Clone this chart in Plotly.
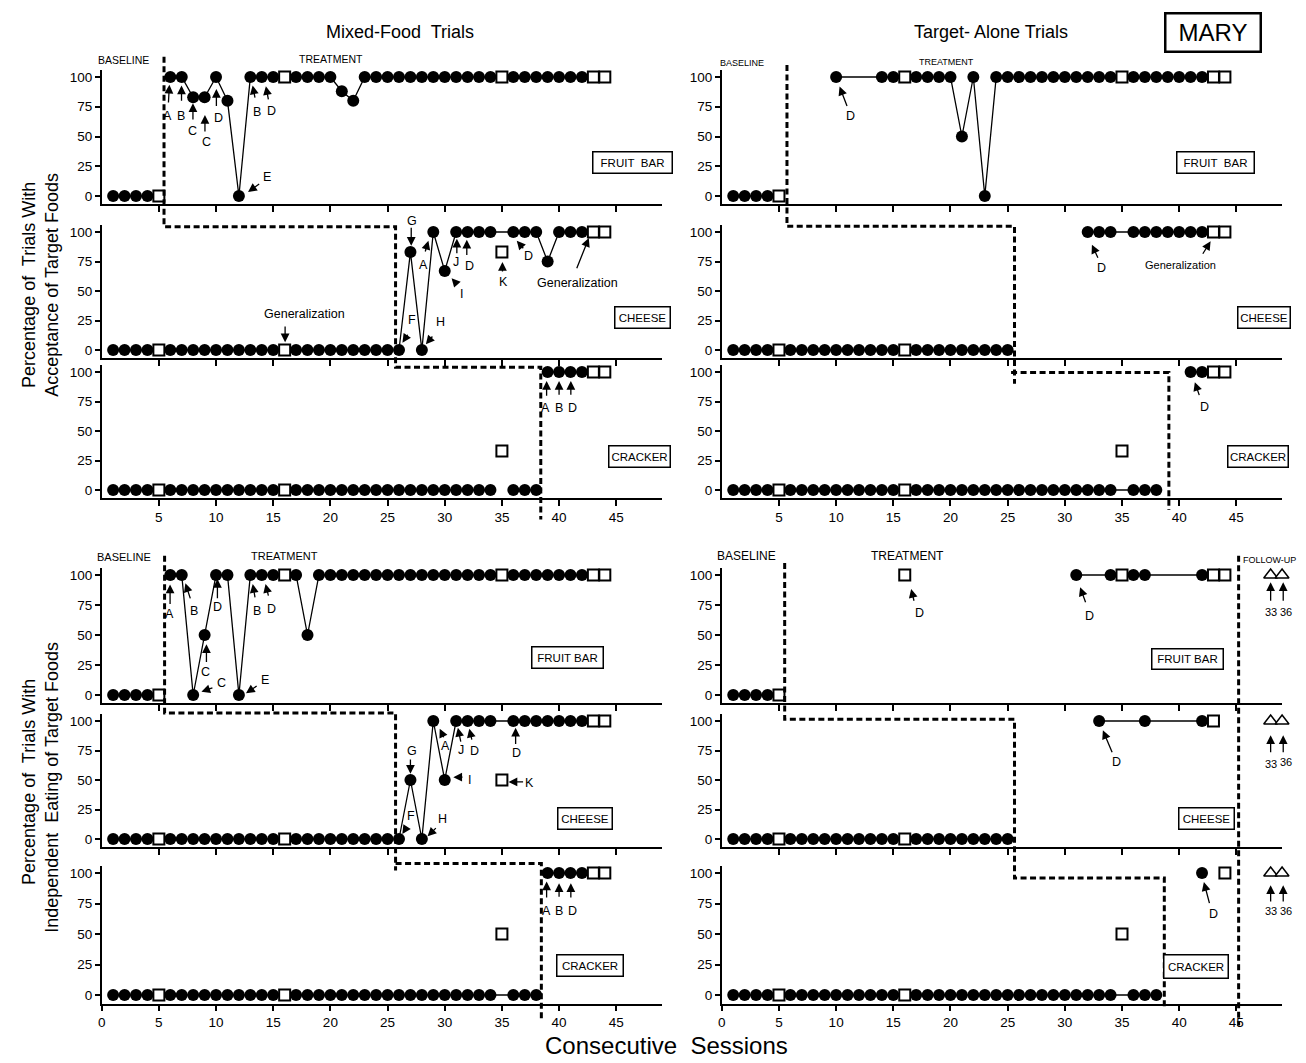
import plotly.graph_objects as go

W, H = 1306, 1063
FONT = "Liberation Sans, Arial, Helvetica, sans-serif"
XR = [0, 49]
YR = [-7, 106]
X_TICKS = [0, 5, 10, 15, 20, 25, 30, 35, 40, 45]
Y_TICKS = [0, 25, 50, 75, 100]

# ================= DATA =================
# --- Acceptance, Mixed-Food trials (top left) ---
ACC_MF_FRUIT_X = [1,2,3,4,None,6,7,8,9,10,11,12,13,14,15,
                  17,18,19,20,21,22,23,24,25,26,27,28,29,30,31,32,33,34,
                  36,37,38,39,40,41,42]
ACC_MF_FRUIT_Y = [0,0,0,0,None,100,100,83,83,100,80,0,100,100,100,
                  100,100,100,100,88,80,100,100,100,100,100,100,100,100,100,100,100,100,
                  100,100,100,100,100,100,100]
ACC_MF_FRUIT_SQ_X = [5,16,35,43,44]
ACC_MF_FRUIT_SQ_Y = [0,100,100,100,100]

ACC_MF_CHEESE_X = [1,2,3,4,6,7,8,9,10,11,12,13,14,15,17,18,19,20,21,22,23,24,25,None,
                   26,27,28,29,30,31,32,33,34,36,37,38,39,40,41,42]
ACC_MF_CHEESE_Y = [0,0,0,0,0,0,0,0,0,0, 0,0,0,0,0,0,0,0,0,0, 0,0,0,None,
                   0,83,0,100,67,100,100,100,100,100,100,100,75,100,100,100]
ACC_MF_CHEESE_SQ_X = [5,16,35,43,44]
ACC_MF_CHEESE_SQ_Y = [0,0,83,100,100]

ACC_MF_CRACKER_X = [1,2,3,4,6,7,8,9,10,11,12,13,14,15,17,18,19,20,21,22,23,24,25,26,27,28,29,30,31,32,33,34,
                    None,36,37,38,None,39,40,41,42]
ACC_MF_CRACKER_Y = [0,0,0,0,0,0,0,0,0,0, 0,0,0,0,0,0,0,0,0,0, 0,0,0,0,0,0,0,0,0,0, 0,0,
                    None,0,0,0,None,100,100,100,100]
ACC_MF_CRACKER_SQ_X = [5,16,35,43,44]
ACC_MF_CRACKER_SQ_Y = [0,0,33,100,100]

# --- Acceptance, Target-Alone trials (top right) ---
ACC_TA_FRUIT_X = [1,2,3,4,None,10,14,15,
                  17,18,19,20,21,22,23,24,25,26,27,28,29,30,31,32,33,34,
                  36,37,38,39,40,41,42]
ACC_TA_FRUIT_Y = [0,0,0,0,None,100,100,100,
                  100,100,100,100,50,100,0,100,100,100,100,100,100,100,100,100,100,100,
                  100,100,100,100,100,100,100]
ACC_TA_FRUIT_SQ_X = [5,16,35,43,44]
ACC_TA_FRUIT_SQ_Y = [0,100,100,100,100]

ACC_TA_CHEESE_X = [1,2,3,4,6,7,8,9,10,11,12,13,14,15,17,18,19,20,21,22,23,24,25,None,
                   32,33,34,36,37,38,39,40,41,42]
ACC_TA_CHEESE_Y = [0,0,0,0,0,0,0,0,0,0, 0,0,0,0,0,0,0,0,0,0, 0,0,0,None,
                   100,100,100,100,100,100,100,100,100,100]
ACC_TA_CHEESE_SQ_X = [5,16,43,44]
ACC_TA_CHEESE_SQ_Y = [0,0,100,100]

ACC_TA_CRACKER_X = [1,2,3,4,6,7,8,9,10,11,12,13,14,15,17,18,19,20,21,22,23,24,25,26,27,28,29,30,31,32,33,34,
                    36,37,38,None,41,42]
ACC_TA_CRACKER_Y = [0,0,0,0,0,0,0,0,0,0, 0,0,0,0,0,0,0,0,0,0, 0,0,0,0,0,0,0,0,0,0, 0,0,
                    0,0,0,None,100,100]
ACC_TA_CRACKER_SQ_X = [5,16,35,43,44]
ACC_TA_CRACKER_SQ_Y = [0,0,33,100,100]

# --- Independent eating, Mixed-Food trials (bottom left) ---
EAT_MF_FRUIT_X = [1,2,3,4,None,6,7,8,9,10,11,12,13,14,15,
                  17,18,19,20,21,22,23,24,25,26,27,28,29,30,31,32,33,34,
                  36,37,38,39,40,41,42]
EAT_MF_FRUIT_Y = [0,0,0,0,None,100,100,0,50,100,100,0,100,100,100,
                  100,50,100,100,100,100,100,100,100,100,100,100,100,100,100,100,100,100,
                  100,100,100,100,100,100,100]
EAT_MF_FRUIT_SQ_X = [5,16,35,43,44]
EAT_MF_FRUIT_SQ_Y = [0,100,100,100,100]

EAT_MF_CHEESE_X = [1,2,3,4,6,7,8,9,10,11,12,13,14,15,17,18,19,20,21,22,23,24,25,None,
                   26,27,28,29,30,31,32,33,34,36,37,38,39,40,41,42]
EAT_MF_CHEESE_Y = [0,0,0,0,0,0,0,0,0,0, 0,0,0,0,0,0,0,0,0,0, 0,0,0,None,
                   0,50,0,100,50,100,100,100,100,100,100,100,100,100,100,100]
EAT_MF_CHEESE_SQ_X = [5,16,35,43,44]
EAT_MF_CHEESE_SQ_Y = [0,0,50,100,100]

EAT_MF_CRACKER_X = [1,2,3,4,6,7,8,9,10,11,12,13,14,15,17,18,19,20,21,22,23,24,25,26,27,28,29,30,31,32,33,34,
                    36,37,38,None,39,40,41,42]
EAT_MF_CRACKER_Y = [0,0,0,0,0,0,0,0,0,0, 0,0,0,0,0,0,0,0,0,0, 0,0,0,0,0,0,0,0,0,0, 0,0,
                    0,0,0,None,100,100,100,100]
EAT_MF_CRACKER_SQ_X = [5,16,35,43,44]
EAT_MF_CRACKER_SQ_Y = [0,0,50,100,100]

# --- Independent eating, Target-Alone trials (bottom right) ---
EAT_TA_FRUIT_X = [1,2,3,4,None,31,34,36,37,42]
EAT_TA_FRUIT_Y = [0,0,0,0,None,100,100,100,100,100]
EAT_TA_FRUIT_SQ_X = [5,16,35,43,44]
EAT_TA_FRUIT_SQ_Y = [0,100,100,100,100]

EAT_TA_CHEESE_X = [1,2,3,4,6,7,8,9,10,11,12,13,14,15,17,18,19,20,21,22,23,24,25,None,33,37,42]
EAT_TA_CHEESE_Y = [0,0,0,0,0,0,0,0,0,0, 0,0,0,0,0,0,0,0,0,0, 0,0,0,None,100,100,100]
EAT_TA_CHEESE_SQ_X = [5,16,43]
EAT_TA_CHEESE_SQ_Y = [0,0,100]

EAT_TA_CRACKER_X = [1,2,3,4,6,7,8,9,10,11,12,13,14,15,17,18,19,20,21,22,23,24,25,26,27,28,29,30,31,32,33,34,
                    36,37,38,None,42]
EAT_TA_CRACKER_Y = [0,0,0,0,0,0,0,0,0,0, 0,0,0,0,0,0,0,0,0,0, 0,0,0,0,0,0,0,0,0,0, 0,0,
                    0,0,0,None,100]
EAT_TA_CRACKER_SQ_X = [5,16,35,44]
EAT_TA_CRACKER_SQ_Y = [0,0,50,100]

FOLLOW_UP_X = [48, 49]
FOLLOW_UP_Y = [100, 100]

# --- arrows (tail x, tail y, tip x, tip y) and notes (text, x, y[, size]) ---
ACC_MF_FRUIT_ARROWS = [(5.83,77.3,5.92,93.5),(6.98,78.7,6.98,92.9),(7.98,63,7.98,78),(9.03,53,9.03,68),
                       (10.03,74.4,10.03,90),(13.43,81.5,13.2,92.9),(14.6,80,14.36,92.3),(13.9,11,12.8,3.4)]
ACC_MF_FRUIT_NOTES = [("A",5.76,67.3),("B",6.92,67.3),("C",7.98,54.5),("C",9.19,45.2),("D",10.19,65.3),
                      ("B",13.55,70.7),("D",14.86,71.6),("E",14.5,16.2)]
ACC_MF_CHEESE_ARROWS = [(16.04,21.2,16.04,6.5),(27.07,104.8,27.07,88.4),(26.85,14.2,26.3,6.2),(29.03,12.7,28.35,4.8),
                        (28.26,82.2,28.57,92.6),(31.12,55.2,30.6,60.9),(31.06,80.7,31.06,94.3),(31.93,79.3,31.93,93.5),
                        (35.05,65.2,35.05,74.5),(36.98,85,36.3,92.6),(41.5,68,42.6,94.9)]
ACC_MF_CHEESE_NOTES = [("Generalization",17.7,30.3),("G",27.1,109.6),("F",27.17,25.5),("H",29.6,23.5),("A",28.1,72.2),
                       ("I",31.43,47.3),("J",30.97,74.2),("D",32.15,70.8),("K",35.1,57.5),("D",37.29,79.3),
                       ("Generalization",41.65,57.2)]
ACC_MF_CRACKER_ARROWS = [(38.91,78.7,38.91,92.3),(40.0,79.5,40.0,92.3),(41.03,79.5,41.03,92.3)]
ACC_MF_CRACKER_NOTES = [("A",38.85,69.6),("B",40.0,69.6),("D",41.18,69.6)]

ACC_TA_FRUIT_ARROWS = [(11.0,74.4,10.3,92)]
ACC_TA_FRUIT_NOTES = [("D",11.24,67.3)]
ACC_TA_CHEESE_ARROWS = [(32.95,76.9,32.37,89.3),(41.99,80.3,42.75,92.1)]
ACC_TA_CHEESE_NOTES = [("D",33.2,69.6),("Generalization",40.1,72.4,11)]
ACC_TA_CRACKER_ARROWS = [(41.8,79.1,41.37,91.4)]
ACC_TA_CRACKER_NOTES = [("D",42.23,70.6)]

EAT_MF_FRUIT_ARROWS = [(5.98,74.6,5.98,92),(7.79,79.3,7.32,93.1),(10.12,79.3,10.12,96.7),(9.16,26.2,9.16,42.3),
                       (9.81,6.4,8.72,2.8),(13.68,8.3,12.62,1.4),(13.43,80.1,13.21,92.5),(14.61,81.5,14.33,92.5)]
EAT_MF_FRUIT_NOTES = [("A",5.92,67.7),("B",8.1,70.4),("D",10.12,73.2),("C",9.1,19.3),("C",10.44,10.2),
                      ("E",14.24,12.4),("B",13.61,70.4),("D",14.86,71.8)]
EAT_MF_CHEESE_ARROWS = [(27.0,68.6,27.0,55.2),(26.76,11.3,26.29,4.2),(29.35,10.5,28.5,2.3),(29.97,85,29.56,93.5),
                        (31.68,52.4,30.75,52.4),(31.43,81.3,31.15,94.3),(32.4,83,32.15,93.5),(36.2,79.3,36.2,94.3),
                        (36.98,48.4,35.58,48.4)]
EAT_MF_CHEESE_NOTES = [("G",27.13,74.2),("F",27.07,19.8),("H",29.81,17),("A",30.03,78.5),("I",32.15,50.4),
                       ("J",31.46,75.6),("D",32.62,75),("D",36.29,72.8),("K",37.45,47.6)]
EAT_MF_CRACKER_ARROWS = [(38.91,78.7,38.91,93.1),(40.0,79.3,40.0,91.7),(41.03,78.7,41.03,91.7)]
EAT_MF_CRACKER_NOTES = [("A",38.94,69),("B",40.03,69),("D",41.18,68.5)]

EAT_TA_FRUIT_ARROWS = [(16.84,77.3,16.56,88.4),(31.86,76,31.34,89.8),(48,77.3,48,94),(49.1,77.3,49.1,94)]
EAT_TA_FRUIT_NOTES = [("D",17.25,68.2),("D",32.13,65.5),("33",48,69,11),("36",49.35,69,11)]
EAT_TA_CHEESE_ARROWS = [(34.19,72.2,33.33,92.1),(48,72.2,48,88),(49.1,72.2,49.1,88)]
EAT_TA_CHEESE_NOTES = [("D",34.54,65.2),("33",48,63.7,11),("36",49.35,65.2,11)]
EAT_TA_CRACKER_ARROWS = [(42.68,74.1,42.16,92.6),(48,75.4,48,90),(49.1,75.4,49.1,90)]
EAT_TA_CRACKER_NOTES = [("D",43.02,66.1),("33",48,68.8,11),("36",49.35,68.8,11)]

# ================= LAYOUT =================
COL_PX = {"L": (98, 660), "R": (720, 1282)}
ROW_PX = {"T1": (77, 196), "T2": (232, 350), "T3": (372, 490),
          "B1": (575, 695), "B2": (721, 839), "B3": (873, 995)}

PANELS = [
    dict(id=1, col="L", row="T1", cx=ACC_MF_FRUIT_X, cy=ACC_MF_FRUIT_Y, sx=ACC_MF_FRUIT_SQ_X, sy=ACC_MF_FRUIT_SQ_Y,
         arrows=ACC_MF_FRUIT_ARROWS, notes=ACC_MF_FRUIT_NOTES, box=("FRUIT&nbsp; BAR", 46.4, 28, 80, 22), xl="none"),
    dict(id=2, col="L", row="T2", cx=ACC_MF_CHEESE_X, cy=ACC_MF_CHEESE_Y, sx=ACC_MF_CHEESE_SQ_X, sy=ACC_MF_CHEESE_SQ_Y,
         arrows=ACC_MF_CHEESE_ARROWS, notes=ACC_MF_CHEESE_NOTES, box=("CHEESE", 47.3, 27.3, 56, 22), xl="none"),
    dict(id=3, col="L", row="T3", cx=ACC_MF_CRACKER_X, cy=ACC_MF_CRACKER_Y, sx=ACC_MF_CRACKER_SQ_X, sy=ACC_MF_CRACKER_SQ_Y,
         arrows=ACC_MF_CRACKER_ARROWS, notes=ACC_MF_CRACKER_NOTES, box=("CRACKER", 47.0, 28, 62, 22), xl="no0"),
    dict(id=4, col="R", row="T1", cx=ACC_TA_FRUIT_X, cy=ACC_TA_FRUIT_Y, sx=ACC_TA_FRUIT_SQ_X, sy=ACC_TA_FRUIT_SQ_Y,
         arrows=ACC_TA_FRUIT_ARROWS, notes=ACC_TA_FRUIT_NOTES, box=("FRUIT&nbsp; BAR", 43.2, 28, 78, 22), xl="none"),
    dict(id=5, col="R", row="T2", cx=ACC_TA_CHEESE_X, cy=ACC_TA_CHEESE_Y, sx=ACC_TA_CHEESE_SQ_X, sy=ACC_TA_CHEESE_SQ_Y,
         arrows=ACC_TA_CHEESE_ARROWS, notes=ACC_TA_CHEESE_NOTES, box=("CHEESE", 47.4, 27.5, 53, 22), xl="none"),
    dict(id=6, col="R", row="T3", cx=ACC_TA_CRACKER_X, cy=ACC_TA_CRACKER_Y, sx=ACC_TA_CRACKER_SQ_X, sy=ACC_TA_CRACKER_SQ_Y,
         arrows=ACC_TA_CRACKER_ARROWS, notes=ACC_TA_CRACKER_NOTES, box=("CRACKER", 46.9, 28.6, 61, 22), xl="no0"),
    dict(id=7, col="L", row="B1", cx=EAT_MF_FRUIT_X, cy=EAT_MF_FRUIT_Y, sx=EAT_MF_FRUIT_SQ_X, sy=EAT_MF_FRUIT_SQ_Y,
         arrows=EAT_MF_FRUIT_ARROWS, notes=EAT_MF_FRUIT_NOTES, box=("FRUIT BAR", 40.7, 31, 72, 22), xl="none"),
    dict(id=8, col="L", row="B2", cx=EAT_MF_CHEESE_X, cy=EAT_MF_CHEESE_Y, sx=EAT_MF_CHEESE_SQ_X, sy=EAT_MF_CHEESE_SQ_Y,
         arrows=EAT_MF_CHEESE_ARROWS, notes=EAT_MF_CHEESE_NOTES, box=("CHEESE", 42.3, 17.6, 55, 22), xl="none"),
    dict(id=9, col="L", row="B3", cx=EAT_MF_CRACKER_X, cy=EAT_MF_CRACKER_Y, sx=EAT_MF_CRACKER_SQ_X, sy=EAT_MF_CRACKER_SQ_Y,
         arrows=EAT_MF_CRACKER_ARROWS, notes=EAT_MF_CRACKER_NOTES, box=("CRACKER", 42.7, 24, 67, 22), xl="all"),
    dict(id=10, col="R", row="B1", cx=EAT_TA_FRUIT_X, cy=EAT_TA_FRUIT_Y, sx=EAT_TA_FRUIT_SQ_X, sy=EAT_TA_FRUIT_SQ_Y,
         arrows=EAT_TA_FRUIT_ARROWS, notes=EAT_TA_FRUIT_NOTES, box=("FRUIT BAR", 40.7, 30, 72, 21), xl="none", fu=True),
    dict(id=11, col="R", row="B2", cx=EAT_TA_CHEESE_X, cy=EAT_TA_CHEESE_Y, sx=EAT_TA_CHEESE_SQ_X, sy=EAT_TA_CHEESE_SQ_Y,
         arrows=EAT_TA_CHEESE_ARROWS, notes=EAT_TA_CHEESE_NOTES, box=("CHEESE", 42.4, 17.7, 56, 22), xl="none", fu=True),
    dict(id=12, col="R", row="B3", cx=EAT_TA_CRACKER_X, cy=EAT_TA_CRACKER_Y, sx=EAT_TA_CRACKER_SQ_X, sy=EAT_TA_CRACKER_SQ_Y,
         arrows=EAT_TA_CRACKER_ARROWS, notes=EAT_TA_CRACKER_NOTES, box=("CRACKER", 41.5, 23, 65, 24), xl="all", fu=True),
]

# phase-change lines: (panel id, session x, y value)
PHASE_LINES = [
    [(1,5.45,117),(2,5.45,104.5),(2,25.7,104.5),(3,25.7,104),(3,38.4,104),(3,38.4,-25)],
    [(4,5.7,110),(5,5.7,104.8),(5,25.6,104.8),(6,25.6,90)],
    [(6,25.3,99.5),(6,39.1,99.5),(6,39.1,-17)],
    [(7,5.5,116),(8,5.5,106.8),(8,25.7,106.8),(9,25.7,102)],
    [(9,25.7,107.7),(9,38.45,107.7),(9,38.45,-22)],
    [(10,5.5,110),(11,5.5,101.4),(11,25.6,101.4),(12,25.6,95.8),(12,38.7,95.8),(12,38.7,-10)],
    [(10,45.2,116),(12,45.2,-25)],
]

PHASE_TEXT = [(1,"BASELINE",1.87,114.2,10.5),(1,"TREATMENT",20.06,115,10.5),
              (4,"BASELINE",1.75,111.4,9),(4,"TREATMENT",19.66,112.8,9),
              (7,"BASELINE",1.93,114.6,11),(7,"TREATMENT",16.0,115.7,11),
              (10,"BASELINE",2.13,116,12),(10,"TREATMENT",16.2,116,12),
              (10,"FOLLOW-UP",47.9,112.4,9)]


def ax_ids(i):
    return ("x" if i == 1 else f"x{i}"), ("y" if i == 1 else f"y{i}")


def geom(pid):
    p = PANELS[pid - 1]
    x0, x1 = COL_PX[p["col"]]
    y100, y0 = ROW_PX[p["row"]]
    s = (y0 - y100) / 100.0
    top = y100 - (YR[1] - 100) * s
    bot = y0 + (0 - YR[0]) * s
    return x0, x1, top, bot


def to_px(pid, x, y):
    x0, x1, top, bot = geom(pid)
    px = x0 + (x - XR[0]) / (XR[1] - XR[0]) * (x1 - x0)
    py = bot - (y - YR[0]) / (YR[1] - YR[0]) * (bot - top)
    return px, py


def to_paper(pid, x, y):
    px, py = to_px(pid, x, y)
    return px / W, 1 - py / H


fig = go.Figure()
layout = dict(width=W, height=H, margin=dict(l=0, r=0, t=0, b=0),
              plot_bgcolor="white", paper_bgcolor="white", showlegend=False,
              font=dict(family=FONT, color="black"))
annotations = []
shapes = []


def text_at(pid, text, x, y, size, **kw):
    xp, yp = to_paper(pid, x, y)
    d = dict(x=xp, y=yp, xref="paper", yref="paper", text=text, showarrow=False,
             xanchor="center", yanchor="middle", font=dict(size=size, family=FONT, color="black"))
    d.update(kw)
    return d


for p in PANELS:
    i = p["id"]
    assert len(p["cx"]) == len(p["cy"]), i
    assert len(p["sx"]) == len(p["sy"]), i
    xr, yr = ax_ids(i)
    x0, x1, top, bot = geom(i)
    xname = "xaxis" if i == 1 else f"xaxis{i}"
    yname = "yaxis" if i == 1 else f"yaxis{i}"
    common = dict(showline=True, linecolor="black", linewidth=1.5, ticks="outside",
                  tickwidth=1.5, tickcolor="black", showgrid=False, zeroline=False,
                  fixedrange=True, tickfont=dict(size=13.5, family=FONT, color="black"))
    if p["xl"] == "none":
        xt = dict(tickvals=X_TICKS[1:], showticklabels=False)
    elif p["xl"] == "no0":
        xt = dict(tickvals=X_TICKS[1:], ticktext=[str(v) for v in X_TICKS[1:]], showticklabels=True)
    else:
        xt = dict(tickvals=X_TICKS, ticktext=[str(v) for v in X_TICKS], showticklabels=True)
    layout[xname] = dict(domain=[x0 / W, x1 / W], range=XR, anchor=yr, ticklen=6, **xt, **common)
    layout[yname] = dict(domain=[1 - bot / H, 1 - top / H], range=YR, anchor=xr, ticklen=5,
                         tickvals=Y_TICKS, ticktext=[str(v) for v in Y_TICKS], **common)

    fig.add_trace(go.Scatter(x=p["cx"], y=p["cy"], xaxis=xr, yaxis=yr, mode="lines+markers",
                             line=dict(color="black", width=1.3), connectgaps=False,
                             marker=dict(symbol="circle", size=12, color="black", line=dict(width=0)),
                             cliponaxis=False, hoverinfo="skip"))
    fig.add_trace(go.Scatter(x=p["sx"], y=p["sy"], xaxis=xr, yaxis=yr, mode="markers",
                             marker=dict(symbol="square", size=11, color="white",
                                         line=dict(color="black", width=2)),
                             cliponaxis=False, hoverinfo="skip"))
    if p.get("fu"):
        fig.add_trace(go.Scatter(x=FOLLOW_UP_X, y=FOLLOW_UP_Y, xaxis=xr, yaxis=yr, mode="markers",
                                 marker=dict(symbol="triangle-up", size=12, color="white",
                                             line=dict(color="black", width=1.5)),
                                 cliponaxis=False, hoverinfo="skip"))

    for (tx, ty, hx, hy) in p["arrows"]:
        hpx, hpy = to_px(i, hx, hy)
        tpx, tpy = to_px(i, tx, ty)
        annotations.append(dict(x=hpx / W, y=1 - hpy / H, xref="paper", yref="paper",
                                ax=tpx - hpx, ay=tpy - hpy, axref="pixel", ayref="pixel",
                                text="", showarrow=True, arrowhead=2, arrowsize=1.35, arrowwidth=1.3,
                                arrowcolor="black", standoff=0, startstandoff=0, font=dict(size=1)))
    for n in p["notes"]:
        size = n[3] if len(n) > 3 else 12.5
        annotations.append(text_at(i, n[0], n[1], n[2], size))
    bt, bx, by, bw, bh = p["box"]
    annotations.append(text_at(i, bt, bx, by, 11.5, width=bw - 4, height=bh - 4,
                               bordercolor="black", borderwidth=1.5, borderpad=1, bgcolor="white"))

for (pid, t, x, y, s) in PHASE_TEXT:
    annotations.append(text_at(pid, t, x, y, s))

for line in PHASE_LINES:
    pts = [to_paper(pid, x, y) for (pid, x, y) in line]
    path = "M " + " L ".join(f"{a:.5f},{b:.5f}" for a, b in pts)
    shapes.append(dict(type="path", path=path, xref="paper", yref="paper", layer="above",
                       line=dict(color="black", width=3, dash="6px,3.5px")))


def paper_text(text, px, py, size, angle=0, **kw):
    d = dict(x=px / W, y=1 - py / H, xref="paper", yref="paper", text=text, showarrow=False,
             font=dict(size=size, family=FONT, color="black"), textangle=angle,
             xanchor="center", yanchor="middle")
    d.update(kw)
    return d


annotations.append(paper_text("Mixed-Food&nbsp; Trials", 397, 32, 18))
annotations.append(paper_text("Target- Alone Trials", 990, 32, 18))
annotations.append(paper_text("MARY", 1213, 32, 24, bordercolor="black", borderwidth=2.5,
                              borderpad=1, width=91, height=34))
annotations.append(paper_text("Percentage of&nbsp; Trials With", 25, 285, 18, -90))
annotations.append(paper_text("Acceptance of Target Foods", 48, 285, 18, -90))
annotations.append(paper_text("Percentage of&nbsp; Trials With", 25, 782, 18, -90))
annotations.append(paper_text("Independent&nbsp; Eating of Target Foods", 48, 787, 18, -90))
annotations.append(paper_text("Consecutive&nbsp; Sessions", 665, 1045, 24))

layout["annotations"] = annotations
layout["shapes"] = shapes
fig.update_layout(**layout)
fig.write_html("out.html", config={"displayModeBar": False},
               post_script="document.body.style.margin='0';document.body.style.overflow='hidden';")
